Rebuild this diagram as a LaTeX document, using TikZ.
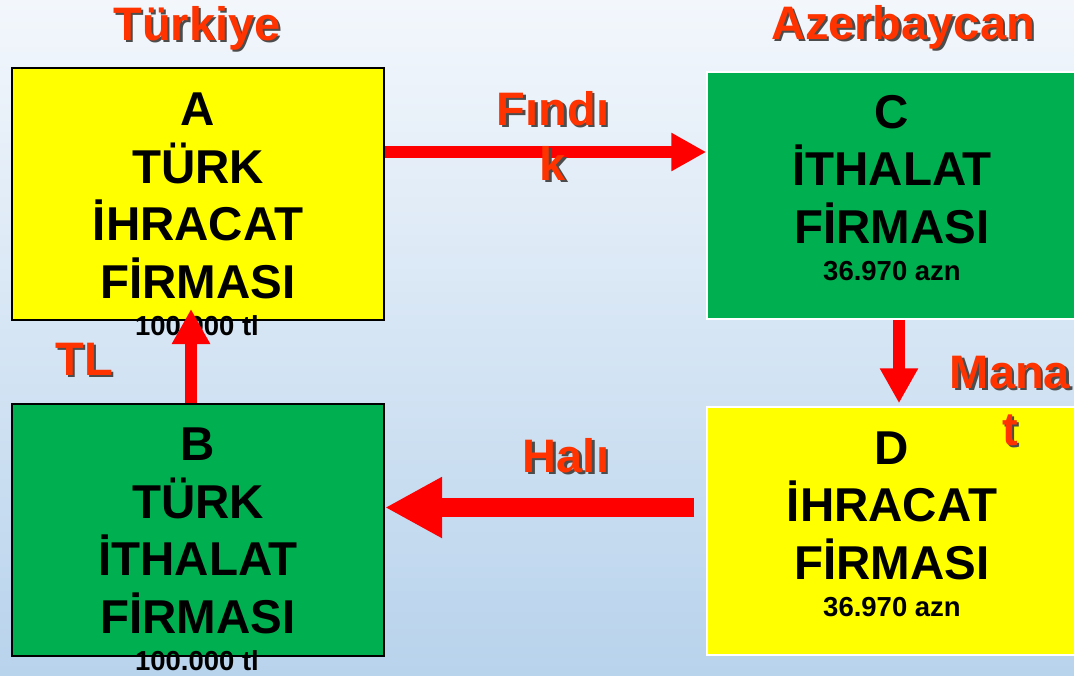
\documentclass[tikz,border=0pt]{standalone}
\usepackage{fontspec}
\setmainfont{Liberation Sans}
\usetikzlibrary{
	positioning
	,arrows.meta
}
\definecolor{boxgreen}{HTML}{00B050}
\definecolor{boxyellow}{HTML}{FFFF00}
\definecolor{tagred}{HTML}{FF3300}
\definecolor{flowred}{HTML}{FF0000}
\definecolor{bgtop}{HTML}{F3F7FC}
\definecolor{bgbottom}{HTML}{B8D3EC}
\newcommand\shd[1]{\rlap{\hspace{2.5pt}\raisebox{-2.5pt}{\textcolor{black!70}{#1}}}#1}
\tikzset{
	firm box/.style={
		draw
		,rectangle
		,inner sep=0pt
		,minimum width=372pt
		,minimum height=252pt
		,line width=2pt
	},
	firm text/.style={
		align=center
		,anchor=base
		,inner sep=0pt
		,font=\fontsize{47.5}{57.5}\selectfont\bfseries
		,text=black
	},
	sum text/.style={
		anchor=base
		,inner sep=0pt
		,font=\fontsize{27.5}{30}\selectfont\bfseries
		,text=black
	},
	tag/.style={
		align=center
		,anchor=base
		,inner sep=0pt
		,font=\fontsize{47}{56}\selectfont\bfseries
		,text=tagred
	}
}
\tikzset{
	flow/.style={-{Triangle[width=36pt,length=35pt]}, line width=12pt, flowred}
	,big flow/.style={-{Triangle[width=57pt,length=57pt]}, line width=19pt, flowred}
}

\begin{document}
\begin{tikzpicture}[x=1pt, y=-1pt]

\useasboundingbox (0,0) rectangle (1074,675);
\shade[top color=bgtop, bottom color=bgbottom] (0,0) rectangle (1074,675);
\clip (0,0) rectangle (1074,675);

% firms
\node[firm box, fill=boxyellow] (A) at (198,194) {};
\node[firm box, fill=boxgreen] (B) at (198,530) {};
\node[firm box, fill=boxgreen, draw=white, line width=1.5pt, minimum width=370pt, minimum height=247pt] (C) at (892,195.5) {};
\node[firm box, fill=boxyellow, draw=white, line width=1.5pt, minimum width=370pt, minimum height=248pt] (D) at (892,531) {};

% last line sits on the anchor
\node[firm text] (A text) at (198,298) {A\\TÜRK\\İHRACAT\\FİRMASI};
\node[firm text] (B text) at (198,633) {B\\TÜRK\\İTHALAT\\FİRMASI};
\node[firm text] (C text) at (892,243) {C\\İTHALAT\\FİRMASI};
\node[firm text] (D text) at (892,579) {D\\İHRACAT\\FİRMASI};

\node[sum text] (A sum) at (197,335) {100.000 tl};
\node[sum text] (B sum) at (197,670) {100.000 tl};
\node[sum text] (C sum) at (892,280) {36.970 azn};
\node[sum text] (D sum) at (892,616) {36.970 azn};

% flows
\draw[flow] ([yshift=42pt]A.east) -- ([yshift=43.5pt]C.west);
\draw[flow, shorten >=3pt] ([xshift=7pt]C.south) -- ([xshift=7pt]D.north);
\draw[big flow, shorten <=12pt] ([yshift=23.5pt]D.west) -- ([yshift=22.5pt]B.east);
\draw[flow, shorten >=-12pt] ([xshift=-7pt]B.north) -- ([xshift=-7pt]A.south);

% tags
\node[tag] (tr) at (197,40) {\shd{Türkiye}};
\node[tag] (az) at (903,39) {\shd{Azerbaycan}};
\node[tag, font=\fontsize{47}{55}\selectfont\bfseries] (fin) at (553,180) {\shd{Fındı}\\\shd{k}};
\node[tag] (tl) at (84,375) {\shd{TL}};
\node[tag, font=\fontsize{47}{57}\selectfont\bfseries] (man) at (1010,445) {\shd{Mana}\\\shd{t}};
\node[tag] (hal) at (566,472) {\shd{Halı}};
\end{tikzpicture}
\end{document}
